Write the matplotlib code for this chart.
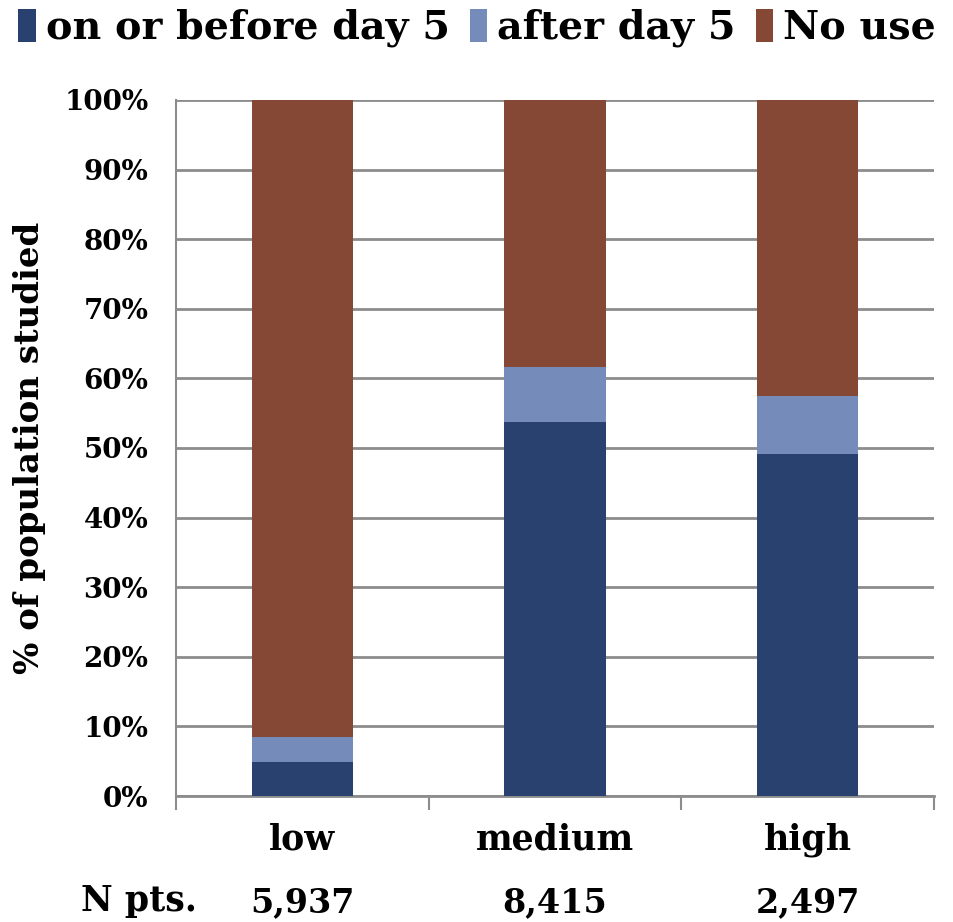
import matplotlib.pyplot as plt
import numpy as np

# share of patients by timing of use, per group
groups = ['low', 'medium', 'high']
n_pts = ['5,937', '8,415', '2,497']
before_day5 = [4.9, 53.8, 49.2]
after_day5 = [3.6, 7.9, 8.3]
no_use = [91.5, 38.3, 42.5]

series_names = ['on or before day 5', 'after day 5', 'No use']
colors = ['#29416F', '#758CBB', '#844835']

plt.rcParams['font.family'] = ['DejaVu Serif']
plt.rcParams['font.weight'] = 'bold'

fig = plt.figure(figsize=(9.54, 9.22), dpi=100)
ax = fig.add_axes([176 / 954, 1 - 796 / 922, (934 - 176) / 954, (796 - 100) / 922])

x = np.arange(len(groups))
bottom = np.zeros(len(groups))
handles = []
for vals, name, col in zip([before_day5, after_day5, no_use], series_names, colors):
    h = ax.bar(x, vals, width=0.4, bottom=bottom, color=col, label=name, zorder=3)
    handles.append(h)
    bottom += np.array(vals)

ax.set_xlim(-0.5, 2.5)
ax.set_ylim(0, 100)
ax.set_yticks(np.arange(0, 101, 10))
ax.set_yticklabels([f'{v}%' for v in range(0, 101, 10)], fontsize=20, fontweight='bold')
ax.yaxis.grid(True, color='#8c8c8c', linewidth=2, zorder=0)
ax.tick_params(axis='y', length=0, pad=20)

# category boundaries get the tick marks, labels sit between them
ax.set_xticks([-0.5, 0.5, 1.5, 2.5])
ax.set_xticklabels([])
ax.tick_params(axis='x', length=10, width=1.5, color='#8c8c8c', direction='out')
for i, g in enumerate(groups):
    ax.text(i, -6.3, g, ha='center', va='center', fontsize=25, fontweight='bold',
            transform=ax.transData)
    ax.text(i, -15.3, n_pts[i], ha='center', va='center', fontsize=24, fontweight='bold',
            transform=ax.transData, clip_on=False)
ax.text(-0.645, -15.1, 'N pts.', ha='center', va='center', fontsize=25, fontweight='bold',
        transform=ax.transData, clip_on=False)

for side in ['top', 'right']:
    ax.spines[side].set_visible(False)
ax.spines['left'].set_color('#8c8c8c')
ax.spines['left'].set_linewidth(1.5)
ax.spines['bottom'].set_color('#8c8c8c')
ax.spines['bottom'].set_linewidth(2)

fig.text(30 / 954, 1 - 448 / 922, '% of population studied', rotation=90, ha='center',
         va='center', fontsize=24.5, fontweight='bold')

fig.legend(handles=handles, labels=series_names, loc='center', bbox_to_anchor=(0.5, 1 - 28 / 922),
           ncol=3, frameon=False, prop={'size': 28.5, 'weight': 'bold'},
           handlelength=0.45, handleheight=0.9, handletextpad=0.25, columnspacing=0.5,
           borderaxespad=0)

fig.savefig('out.png', dpi=100)
